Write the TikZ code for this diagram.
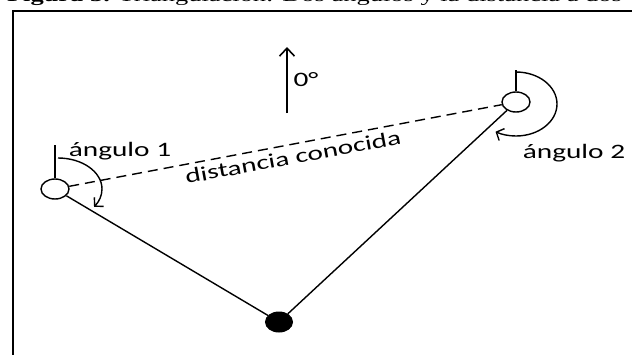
\documentclass[tikz,border=0pt]{standalone}
\usepackage{fontspec}
\setmainfont{Liberation Serif}
\newfontfamily\lblfont{Carlito}
\usetikzlibrary{arrows.meta,shapes.geometric}
\tikzset{
  station/.style={ellipse, draw, line width=1.4pt, minimum width=28pt, minimum height=20pt, inner sep=0pt},
  target/.style={ellipse, fill=black, draw=black, line width=1pt, minimum width=27pt, minimum height=20pt, inner sep=0pt},
  link/.style={line width=1.4pt},
  baseline/.style={line width=1.4pt, dash pattern=on 10pt off 6pt},
  lbl/.style={font=\lblfont\fontsize{20.5}{22}\selectfont, inner sep=0pt},
  barb/.style={-{Straight Barb[length=6pt,width=13pt,line width=1.4pt]}},
  northbarb/.style={-{Straight Barb[length=8pt,width=15pt,line width=1.6pt]}},
}
\newcommand{\stretchtxt}[1]{\scalebox{1.43}[1]{#1}}
\begin{document}
\begin{tikzpicture}[x=1pt,y=1pt]
\useasboundingbox (0,0) rectangle (632,-354);
\clip (0,0) rectangle (632,-354);
% caption (cut at the top)
\node[anchor=base east, inner sep=0pt] (cap) at (622,-1)
  {\stretchtxt{\fontsize{18.5}{20}\selectfont\textbf{Figura 3.} Triangulación: Dos ángulos y la distancia a dos}};
% frame
\draw[line width=1.5pt] (13,-370) -- (13,-11) -- (650,-11);
% stations and target
\node[station] (A) at (55,-189) {};
\node[station] (B) at (516,-102) {};
\node[target]  (T) at (279,-322) {};
% connectors
\draw[link] (A) -- (T);
\draw[link] (B) -- (T);
\draw[baseline] (A) -- (B);
% north ticks
\coordinate (Atop) at (55,-145);
\coordinate (Btop) at (516,-70);
\draw[link] (A.north) -- (Atop);
\draw[link] (B.north) -- (Btop);
% angle arcs
\draw[link, barb] (58,-158) arc[start angle=90, end angle=-35, x radius=44, y radius=31];
\draw[link, barb] (516,-72) arc[start angle=90, end angle=-120, x radius=41, y radius=32];
% north arrow
\coordinate (N0) at (287,-113);
\coordinate (N1) at (287,-47);
\draw[link, northbarb] (N0) -- (N1);
\node[lbl] (zero) at (306,-80) {\stretchtxt{0°}};
% labels
\node[lbl] (a1) at (120,-151) {\stretchtxt{ángulo 1}};
\node[lbl] (a2) at (574,-153) {\stretchtxt{ángulo 2}};
\node[lbl, rotate=10.5] (d) at (293,-157) {\stretchtxt{distancia conocida}};
\end{tikzpicture}
\end{document}
